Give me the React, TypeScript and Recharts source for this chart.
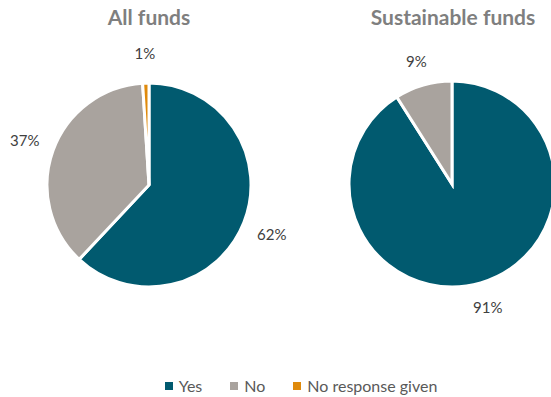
import React from "react";
import { PieChart, Pie, Cell, Legend } from "recharts";

const categories = ["Yes", "No", "No response given"];
const allFunds = [62, 37, 1];
const sustainableFunds = [91, 9, 0];
const chartTitles = ["All funds", "Sustainable funds"];
const colors = ["#015A6F", "#A9A39E", "#DF8A0C"];

const FONT = "Lato, 'Open Sans', sans-serif";

const toRows = (values: number[]) =>
  categories.map((name, i) => ({ name, value: values[i] }));

const RADIAN = Math.PI / 180;

const makeLabel = (gap: number) => (props: any) => {
  const { cx, cy, midAngle, outerRadius, value } = props;
  if (!value) return null;
  const r = outerRadius + gap;
  const x = cx + r * Math.cos(-midAngle * RADIAN);
  const y = cy + r * Math.sin(-midAngle * RADIAN);
  return (
    <text
      x={x}
      y={y}
      fill="#404040"
      fontSize={15}
      fontFamily={FONT}
      textAnchor="middle"
      dominantBaseline="central"
    >
      {value}%
    </text>
  );
};

function LegendBox() {
  return (
    <div
      style={{
        display: "flex",
        justifyContent: "center",
        gap: 28,
        fontFamily: FONT,
        fontSize: 16,
        color: "#595959",
        paddingLeft: 51,
      }}
    >
      {categories.map((c, i) => (
        <div key={c} style={{ display: "flex", alignItems: "center" }}>
          <span
            style={{
              width: 8,
              height: 8,
              background: colors[i],
              display: "inline-block",
              marginRight: 6,
            }}
          />
          {c}
        </div>
      ))}
    </div>
  );
}

const titleStyle: React.CSSProperties = {
  position: "absolute",
  width: 240,
  top: 4,
  textAlign: "center",
  fontFamily: FONT,
  fontWeight: 700,
  fontSize: 21,
  color: "#7F7F7F",
};

export default function App() {
  return (
    <div style={{ position: "absolute", left: 0, top: 0, width: 551, height: 397, background: "#fff" }}>
      <div style={{ ...titleStyle, left: 29 }}>{chartTitles[0]}</div>
      <div style={{ ...titleStyle, left: 333 }}>{chartTitles[1]}</div>
      <PieChart width={551} height={397} margin={{ top: 0, right: 0, bottom: 0, left: 0 }}>
        <Pie
          data={toRows(allFunds)}
          dataKey="value"
          nameKey="name"
          cx={149}
          cy={185}
          outerRadius={102}
          startAngle={90}
          endAngle={-270}
          stroke="#fff"
          strokeWidth={3}
          label={makeLabel(30)}
          labelLine={false}
          isAnimationActive={false}
        >
          {allFunds.map((_, i) => (
            <Cell key={i} fill={colors[i]} />
          ))}
        </Pie>
        <Pie
          data={toRows(sustainableFunds)}
          dataKey="value"
          nameKey="name"
          cx={452}
          cy={184}
          outerRadius={103}
          startAngle={90}
          endAngle={-270}
          stroke="#fff"
          strokeWidth={3}
          label={makeLabel(25)}
          labelLine={false}
          isAnimationActive={false}
        >
          {sustainableFunds.map((_, i) => (
            <Cell key={i} fill={colors[i]} />
          ))}
        </Pie>
        <Legend
          verticalAlign="bottom"
          content={() => <LegendBox />}
          wrapperStyle={{ bottom: 2 }}
        />
      </PieChart>
    </div>
  );
}
